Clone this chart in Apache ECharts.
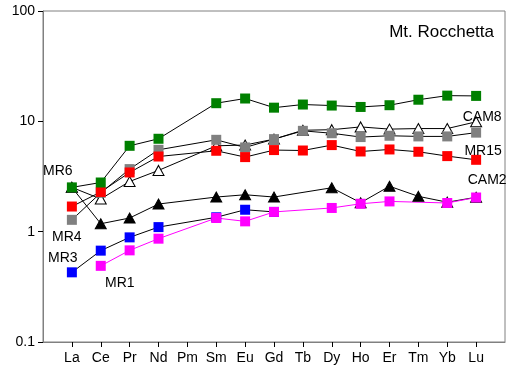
<!DOCTYPE html>
<html>
<head>
<meta charset="utf-8">
<script src="https://cdn.jsdelivr.net/npm/echarts@6/dist/echarts.min.js"></script>
<style>
html, body { margin: 0; padding: 0; background: #fff; }
#main { width: 510px; height: 372px; }
</style>
</head>
<body>
<div id="main"></div>
<script>
var elements = ['La', 'Ce', 'Pr', 'Nd', 'Pm', 'Sm', 'Eu', 'Gd', 'Tb', 'Dy', 'Ho', 'Er', 'Tm', 'Yb', 'Lu'];
var yTicks = [0.1, 1, 10, 100];

// chondrite-normalised values, Pm not analysed
var cam2 = [2.52, 1.18, 1.33, 1.78, null, 2.06, 2.16, 2.06, null, 2.5, 1.83, 2.58, 2.09, 1.85, 2.05];
var cam8 = [2.52, 1.98, 2.85, 3.59, null, 6.0, 6.1, 6.9, 8.3, 8.4, 8.9, 8.5, 8.6, 8.6, 9.9];
var mr4 = [1.28, 2.25, 3.69, 5.52, null, 6.8, 5.8, 6.9, 8.2, 7.8, 7.2, 7.4, 7.3, 7.3, 7.9];
var mr15 = [1.69, 2.29, 3.44, 4.80, null, 5.41, 4.74, 5.49, 5.44, 6.09, 5.33, 5.56, 5.30, 4.84, 4.48];
var mr6 = [2.52, 2.79, 6.0, 6.95, null, 14.6, 16.1, 13.3, 14.2, 13.9, 13.5, 14.0, 15.7, 17.1, 17.0];
var mr3 = [0.428, 0.673, 0.888, 1.10, null, 1.35, 1.58, 1.51, null, null, null, null, null, null, null];
var mr1 = [null, 0.49, 0.677, 0.864, null, 1.33, 1.24, 1.51, null, 1.64, 1.79, 1.88, null, 1.82, 2.04];

var chart = echarts.init(document.getElementById('main'));

function pad(arr) {
    return [null].concat(arr, [null]);
}

// put a name label next to one point of a series
function withLabel(arr, idx, text, dx, dy) {
    var d = pad(arr);
    d[idx + 1] = {
        value: d[idx + 1],
        label: {
            show: true, position: 'inside', offset: [dx, dy],
            formatter: text, color: '#000', fontSize: 14,
            fontFamily: 'Liberation Sans'
        }
    };
    return d;
}

function squares(name, color, data, lineColor) {
    return {
        name: name, type: 'line', data: data, connectNulls: true,
        symbol: 'rect', symbolSize: 10,
        itemStyle: { color: color, borderWidth: 0 },
        lineStyle: { color: lineColor || '#000', width: 1 },
        emphasis: { disabled: true }, animation: false
    };
}

function triangles(name, fill, data) {
    return {
        name: name, type: 'line', data: data, connectNulls: true,
        symbol: 'triangle', symbolSize: [11, 10], showAllSymbol: true,
        itemStyle: { color: fill, borderColor: '#000', borderWidth: 1 },
        lineStyle: { color: '#000', width: 1 },
        emphasis: { disabled: true }, animation: false
    };
}

var option = {
    animation: false,
    textStyle: { fontFamily: 'Liberation Sans' },
    title: {
        text: 'Mt. Rocchetta', right: 11, top: 19,
        textStyle: { fontSize: 17, fontWeight: 'normal', color: '#000', fontFamily: 'Liberation Sans' }
    },
    grid: {
        left: 43, right: 5, top: 11, bottom: 30,
        show: true, borderColor: '#808080', borderWidth: 1
    },
    xAxis: {
        type: 'category', boundaryGap: false,
        data: [''].concat(elements, ['']),
        axisLine: { lineStyle: { color: '#808080' } },
        axisTick: {
            length: 5, lineStyle: { color: '#000' },
            interval: function (i) { return i > 0 && i < elements.length + 1; }
        },
        axisLabel: { interval: 0, color: '#000', fontSize: 14, margin: 9 },
        splitLine: { show: false }
    },
    yAxis: {
        type: 'log', logBase: 10, min: yTicks[0], max: yTicks[yTicks.length - 1],
        axisLine: { show: true, lineStyle: { color: '#808080' } },
        axisTick: { show: true, length: 5, lineStyle: { color: '#000' } },
        axisLabel: { color: '#000', fontSize: 14, margin: 8,
            formatter: function (v) { return String(+v.toPrecision(3)); } },
        splitLine: { show: false },
        minorTick: { show: false }
    },
    series: [
        triangles('CAM2', '#000', withLabel(cam2, 14, 'CAM2', 11, -17)),
        triangles('CAM8', '#fff', withLabel(cam8, 14, 'CAM8', 6, -5)),
        squares('MR4', '#808080', withLabel(mr4, 0, 'MR4', -5, 17)),
        squares('MR15', '#ff0000', withLabel(mr15, 14, 'MR15', 7, -9)),
        squares('MR6', '#008000', withLabel(mr6, 0, 'MR6', -14, -16)),
        squares('MR3', '#0000ff', withLabel(mr3, 0, 'MR3', -9, -14)),
        squares('MR1', '#ff00ff', withLabel(mr1, 1, 'MR1', 19, 17), '#ff00ff')
    ]
};
chart.setOption(option);
</script>
</body>
</html>
